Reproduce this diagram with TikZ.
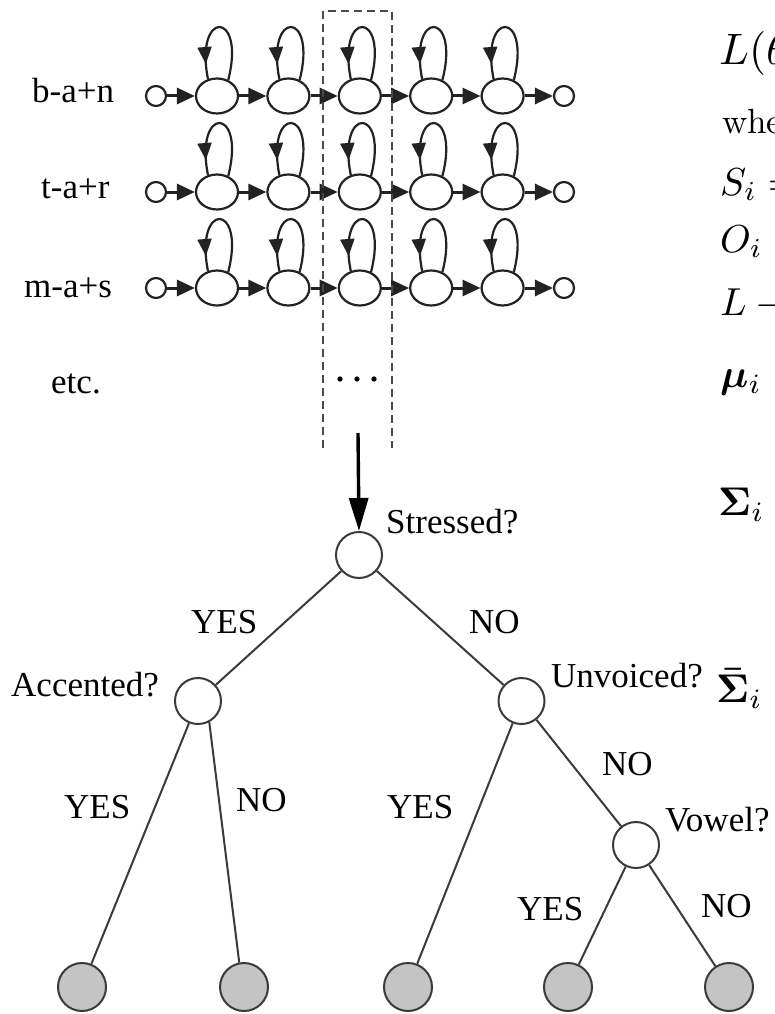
\documentclass[tikz,border=0pt]{standalone}
\usepackage{graphicx}
\usepackage{bm}
\usepackage[no-math]{fontspec}
\setmainfont{Liberation Serif}
\newfontfamily\lblfont{Liberation Serif}
\usetikzlibrary{arrows.meta,decorations.markings,shapes.geometric}

\definecolor{ink}{HTML}{222222}
\definecolor{treeink}{HTML}{3A3A3A}
\definecolor{leafgray}{HTML}{C4C4C4}
\definecolor{dashgray}{HTML}{4A4A4A}

\newcommand{\bigmath}[2]{\scalebox{#1}{$#2$}}

\begin{document}
\begin{tikzpicture}[x=1pt,y=-1pt,
  state/.style={ellipse, draw=ink, line width=2.2pt, fill=white,
    minimum width=42pt, minimum height=35pt, inner sep=0pt},
  endpt/.style={circle, draw=ink, line width=2.2pt, fill=white,
    minimum size=20pt, inner sep=0pt},
  hop/.style={color=ink, line width=3pt, -{Triangle[length=18pt,width=16pt]}},
  selfloop/.style={color=ink, line width=2.2pt, postaction={decorate},
    decoration={markings, mark=at position 0.87 with
      {\arrow{Triangle[length=17pt,width=14pt]}}}},
  dashbox/.style={draw=dashgray, line width=1.5pt, dash pattern=on 8pt off 5pt},
  feedarrow/.style={color=black, line width=3.4pt, -{Triangle[length=33pt,width=19pt]}},
  qnode/.style={circle, draw=treeink, line width=2pt, fill=white,
    minimum size=46pt, inner sep=0pt},
  leaf/.style={circle, draw=treeink, line width=2pt, fill=leafgray,
    minimum size=48pt, inner sep=0pt},
  branch/.style={draw=treeink, line width=2pt},
  lbl/.style={anchor=base west, inner sep=0pt, font=\lblfont\fontsize{35}{40}\selectfont},
  eqlbl/.style={anchor=base west, inner sep=0pt},
]
\useasboundingbox (0,0) rectangle (775,1014);
\clip (0,0) rectangle (775,1014);

% ---- HMM chains, one per context-dependent model ----
\foreach \y [count=\r] in {96,192,288} {
  \node[endpt] (h\r-0) at (156,\y) {};
  \node[endpt] (h\r-6) at (564,\y) {};
  \foreach \c in {1,...,5} {
    \pgfmathsetmacro\xx{217+(\c-1)*71.4}
    \node[state] (h\r-\c) at (\xx,\y) {};
    \draw[selfloop] (h\r-\c.55) .. controls +(18,-70) and +(-14,-70) .. (h\r-\c.118);
  }
  \foreach \c [evaluate=\c as \n using int(\c+1)] in {0,...,5} {
    \draw[hop] (h\r-\c) -- (h\r-\n);
  }
}

% model names
\node[lbl] (m1) at (32,103) {b-a+n};
\node[lbl] (m2) at (41,198) {t-a+r};
\node[lbl] (m3) at (24,297) {m-a+s};
\node[lbl] (m4) at (51,393) {etc.};

% the column of third states, gathered over all models
\draw[dashbox] (323,448) -- (323,11) -- (392,11) -- (392,448);
\foreach \dx in {340,357,374} \fill[black] (\dx,379) circle (2.7pt);

% ---- decision tree ----
\node[qnode] (st) at (359,555) {};
\node[qnode] (ac) at (198,701) {};
\node[qnode] (uv) at (521.5,701) {};
\node[qnode] (vw) at (636,845) {};
\node[leaf] (l1) at (82,987) {};
\node[leaf] (l2) at (244,987) {};
\node[leaf] (l3) at (408,987) {};
\node[leaf] (l4) at (568,987) {};
\node[leaf] (l5) at (729,987) {};

\coordinate (feed) at (358,433);
\draw[feedarrow] (feed) -- (st.north);

\draw[branch] (st) -- (ac);
\draw[branch] (st) -- (uv);
\draw[branch] (ac) -- (l1);
\draw[branch] (ac.-62) -- (l2.101);
\draw[branch] (uv) -- (l3);
\draw[branch] (uv) -- (vw);
\draw[branch] (vw) -- (l4);
\draw[branch] (vw) -- (l5);

\node[lbl] (q1) at (386,533) {Stressed?};
\node[lbl] (q2) at (11,696) {Accented?};
\node[lbl] (q3) at (551,687) {Unvoiced?};
\node[lbl] (q4) at (665,831) {Vowel?};

\node[lbl] (a1) at (191,633) {YES};
\node[lbl] (a2) at (469,633) {NO};
\node[lbl] (a3) at (64,818) {YES};
\node[lbl] (a4) at (236,811) {NO};
\node[lbl] (a5) at (387,818) {YES};
\node[lbl] (a6) at (602,775) {NO};
\node[lbl] (a7) at (517,920) {YES};
\node[lbl] (a8) at (701,917) {NO};

% ---- equations at the right edge ----
\node[eqlbl] (e0) at (719,65) {\bigmath{4.4}{L(\theta)}};
\node[eqlbl] (e1) at (722,133)
  {\scalebox{3.5}{\fontfamily{lmr}\selectfont where}};
\node[eqlbl] (e2) at (720,195) {\bigmath{3.9}{S_i =}};
\node[eqlbl] (e3) at (720,252) {\bigmath{3.9}{O_i =}};
\node[eqlbl] (e4) at (720,315) {\bigmath{3.9}{L -{}}};
\node[eqlbl] (e5) at (720,387) {\bigmath{4.0}{\bm{\mu}_i}};
\node[eqlbl] (e6) at (718,515) {\bigmath{4.0}{\bm{\Sigma}_i =}};
\node[eqlbl] (e7) at (716,702) {\bigmath{4.0}{\bm{\bar{\Sigma}}_i =}};
\end{tikzpicture}
\end{document}
